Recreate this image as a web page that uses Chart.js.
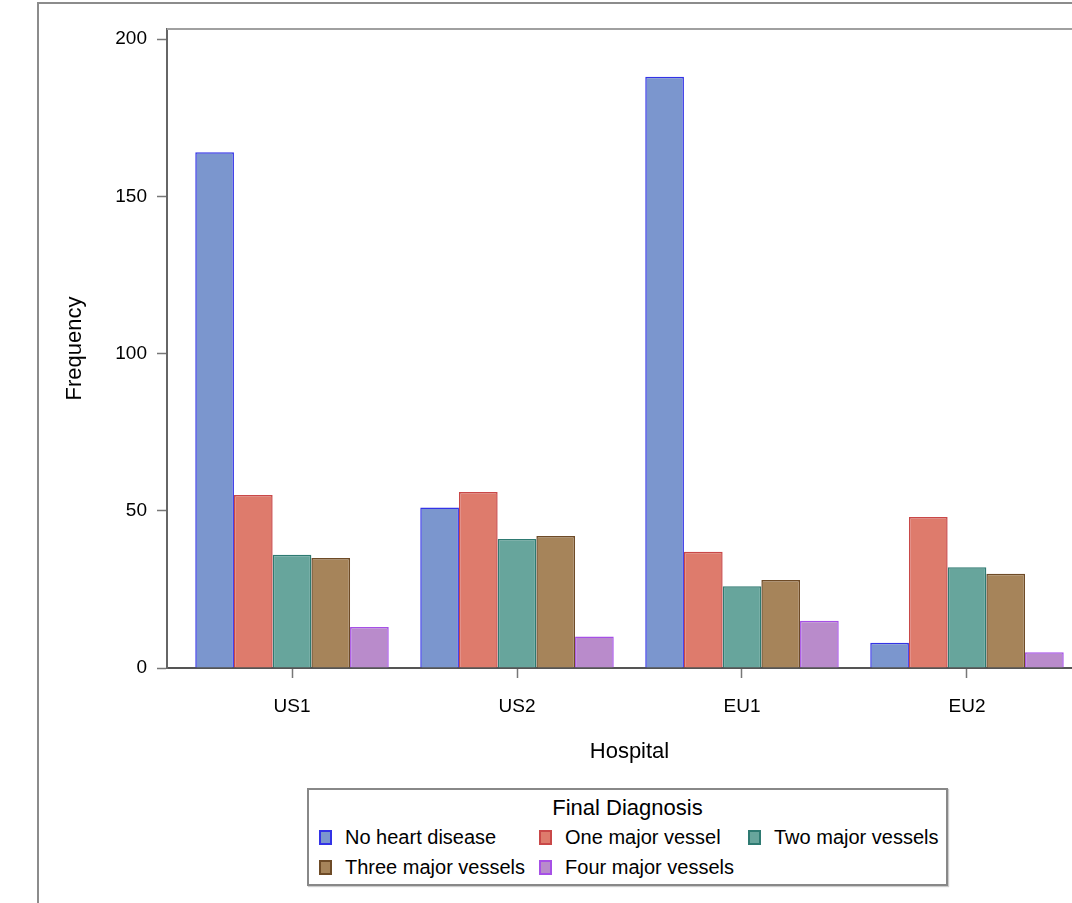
<!DOCTYPE html>
<html lang="en">

<head>
    <meta charset="UTF-8">
    <meta name="viewport" content="width=device-width, initial-scale=1.0">
    <title>Final Diagnosis by Hospital</title>
    <script src="https://cdn.jsdelivr.net/npm/chart.js"></script>
    <style>
        body {
            margin: 0;
            background: #fff;
            width: 1072px;
            height: 903px;
            overflow: hidden;
            position: relative;
            font-family: "Liberation Sans", Arial, sans-serif;
            color: #000;
        }

        .frame {
            position: absolute;
            left: 37px;
            top: 2px;
            width: 1200px;
            height: 1000px;
            box-sizing: border-box;
            border: 2px solid #8c8c8c;
        }

        .chart-box {
            position: absolute;
            left: 0;
            top: 0;
            width: 1120px;
            height: 765px;
        }

        .legend {
            position: absolute;
            left: 307px;
            top: 788px;
            width: 641px;
            height: 98px;
            box-sizing: border-box;
            border: 2px solid #888;
            box-shadow: 1px 1px 1px #ccc;
        }

        .legend-title {
            text-align: center;
            font-size: 22px;
            line-height: 26px;
            margin-top: 5px;
        }

        .legend-items {
            display: grid;
            grid-template-columns: repeat(3, auto);
            column-gap: 14px;
            row-gap: 5px;
            justify-content: start;
            padding-left: 10px;
            margin-top: 4px;
        }

        .legend-item {
            display: flex;
            align-items: center;
            font-size: 20px;
            line-height: 25px;
            white-space: nowrap;
        }

        .swatch {
            width: 13px;
            height: 15px;
            box-sizing: border-box;
            border: 2px solid;
            margin-right: 13px;
        }
    </style>
</head>

<body>
    <div class="frame"></div>
    <div class="chart-box"><canvas id="diagnosisChart"></canvas></div>
    <div class="legend">
        <div class="legend-title">Final Diagnosis</div>
        <div class="legend-items" id="legendItems"></div>
    </div>

    <script>
        // data
        const hospitals = ['US1', 'US2', 'EU1', 'EU2'];
        const diagnoses = ['No heart disease', 'One major vessel', 'Two major vessels', 'Three major vessels', 'Four major vessels'];
        const noHeartDisease = [164, 51, 188, 8];
        const oneVessel = [55, 56, 37, 48];
        const twoVessels = [36, 41, 26, 32];
        const threeVessels = [35, 42, 28, 30];
        const fourVessels = [13, 10, 15, 5];
        const yTicks = [0, 50, 100, 150, 200];

        const fills = ['#7b96ce', '#de7b6c', '#67a59c', '#a6845a', '#b98bcb'];
        const borders = ['#3333e6', '#c94848', '#2e7a72', '#6e4b27', '#a650e6'];

        const series = [noHeartDisease, oneVessel, twoVessels, threeVessels, fourVessels];

        const datasets = series.map((values, s) => ({
            label: diagnoses[s],
            data: values.map((v, i) => ({ x: i, y: v })),
            backgroundColor: fills[s],
            borderColor: borders[s],
            borderWidth: 1.5,
            borderSkipped: 'bottom',
            categoryPercentage: 0.86,
            barPercentage: 1
        }));

        // gray line on top (and right) of the plot area
        const plotFrame = {
            id: 'plotFrame',
            afterDraw(chart) {
                const { ctx, chartArea: a } = chart;
                ctx.save();
                ctx.strokeStyle = '#a0a0a0';
                ctx.lineWidth = 2;
                ctx.beginPath();
                ctx.moveTo(a.left, a.top);
                ctx.lineTo(a.right, a.top);
                ctx.lineTo(a.right, a.bottom);
                ctx.stroke();
                ctx.restore();
            }
        };

        const chart = new Chart(document.getElementById('diagnosisChart'), {
            type: 'bar',
            data: { datasets: datasets },
            options: {
                responsive: true,
                maintainAspectRatio: false,
                animation: false,
                layout: { padding: { top: 29, right: 28, left: 0, bottom: 0 } },
                plugins: {
                    legend: { display: false },
                    tooltip: { enabled: false }
                },
                scales: {
                    x: {
                        type: 'linear',
                        offset: false,
                        min: -0.5556,
                        max: 3.5556,
                        afterBuildTicks: (scale) => {
                            scale.ticks = hospitals.map((h, i) => ({ value: i }));
                        },
                        afterFit: (scale) => { scale.height = 97; },
                        ticks: {
                            callback: (value) => hospitals[value],
                            font: { family: 'Liberation Sans', size: 19 },
                            color: '#000',
                            padding: 17,
                            maxRotation: 0
                        },
                        grid: {
                            offset: false,
                            drawOnChartArea: false,
                            drawTicks: true,
                            tickLength: 10,
                            tickColor: '#777',
                            tickWidth: 1.5
                        },
                        border: { display: true, color: '#555', width: 2 },
                        title: {
                            display: true,
                            text: 'Hospital',
                            font: { family: 'Liberation Sans', size: 22 },
                            color: '#000',
                            padding: { top: 0, bottom: 0 }
                        }
                    },
                    y: {
                        min: 0,
                        max: 203.2,
                        afterBuildTicks: (scale) => {
                            scale.ticks = yTicks.map(v => ({ value: v }));
                        },
                        afterFit: (scale) => { scale.width = 167; },
                        ticks: {
                            font: { family: 'Liberation Sans', size: 19 },
                            color: '#000',
                            padding: 10
                        },
                        grid: {
                            drawOnChartArea: false,
                            drawTicks: true,
                            tickLength: 10,
                            tickColor: '#777',
                            tickWidth: 1.5
                        },
                        border: { display: true, color: '#666', width: 2 },
                        title: {
                            display: true,
                            text: 'Frequency',
                            font: { family: 'Liberation Sans', size: 22 },
                            color: '#000',
                            padding: { top: 62, bottom: 0 }
                        }
                    }
                }
            },
            plugins: [plotFrame]
        });

        // legend built from the chart's datasets, 3 columns like the original
        const legendItems = document.getElementById('legendItems');
        chart.data.datasets.forEach(ds => {
            const item = document.createElement('div');
            item.className = 'legend-item';
            const box = document.createElement('span');
            box.className = 'swatch';
            box.style.background = ds.backgroundColor;
            box.style.borderColor = ds.borderColor;
            const txt = document.createElement('span');
            txt.textContent = ds.label;
            item.appendChild(box);
            item.appendChild(txt);
            legendItems.appendChild(item);
        });
    </script>
</body>

</html>
